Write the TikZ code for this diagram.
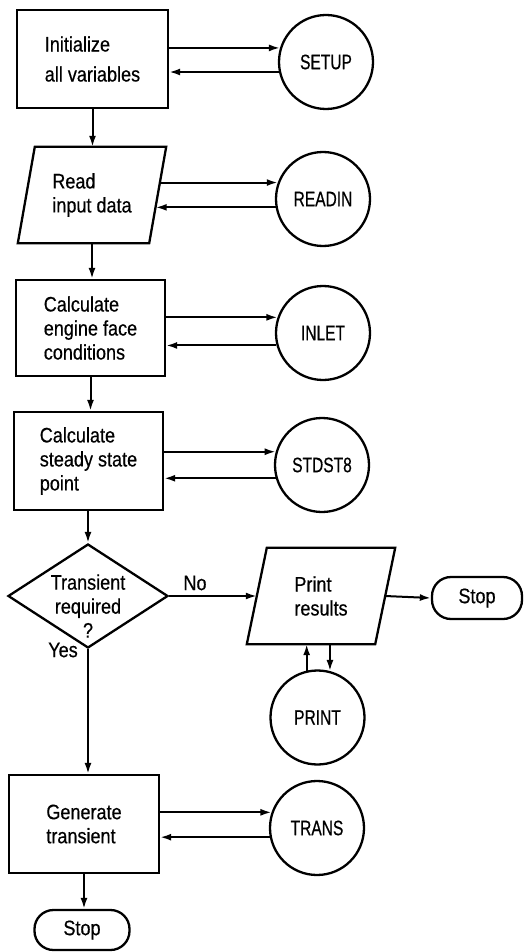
\documentclass[tikz,border=0pt]{standalone}
\usepackage{fontspec}
\setmainfont{Liberation Sans}[FakeStretch=0.86,FakeBold=0.5]
\newfontfamily\capsfont{Liberation Sans}[FakeStretch=0.74,FakeBold=0.5]
\usetikzlibrary{arrows.meta,shapes.geometric,calc}
\begin{document}
\begin{tikzpicture}[x=1pt,y=-1pt,
  lw/.style={line width=2.3pt},
  txt/.style={font=\fontsize{21}{24}\selectfont, inner sep=0pt},
  proc/.style={draw, rectangle, lw, align=left, txt},
  iobox/.style={rectangle, align=left, txt},
  circ/.style={draw, circle, lw, minimum size=94pt, inner sep=0pt, font=\capsfont\fontsize{21}{24}\selectfont},
  term/.style={draw, rectangle, rounded corners=19pt, lw, txt},
  arr/.style={-{Latex[length=11pt,width=7pt]}, line width=2pt}]
\useasboundingbox (0,0) rectangle (532,952);

\node[proc, minimum width=151pt, minimum height=98pt] (init) at (92.5,59) {Initialize\\[6pt]all variables};
\node[circ] (setup) at (326,62) {SETUP};

\node[iobox, minimum width=131pt, minimum height=96pt] (read) at (92,195) {Read\\input data};
\draw[lw] ($(read.north west)+(8.5,0)$) -- ($(read.north east)+(8.5,0)$) -- ($(read.south east)+(-8.5,0)$) -- ($(read.south west)+(-8.5,0)$) -- cycle;
\node[circ] (readin) at (323,199) {READIN};

\node[proc, minimum width=149pt, minimum height=96pt] (calc1) at (90.5,328) {Calculate\\engine face\\conditions};
\node[circ] (inlet) at (323,333) {INLET};

\node[proc, minimum width=149pt, minimum height=98pt] (calc2) at (88.5,461) {Calculate\\steady state\\point};
\node[circ] (stdst) at (322,465) {STDST8};

\node[draw, diamond, lw, minimum width=160pt, minimum height=104pt, inner sep=0pt] (dec) at (88,596) {};
\node[txt, align=center] (dectxt) at (88,606) {Transient\\required\\?};
\node[txt] (no) at (195,583) {No};
\node[txt] (yes) at (63,650) {Yes};

\node[iobox, minimum width=128pt, minimum height=96pt] (print) at (321,596) {Print\\results};
\draw[lw] ($(print.north west)+(10,0)$) -- ($(print.north east)+(10,0)$) -- ($(print.south east)+(-10,0)$) -- ($(print.south west)+(-10,0)$) -- cycle;
\node[term, minimum width=90pt, minimum height=42pt] (stop2) at (477,598) {Stop};
\node[circ] (printc) at (317.5,717.5) {PRINT};

\node[proc, minimum width=150pt, minimum height=98pt] (gen) at (84,824) {Generate\\transient};
\node[circ] (trans) at (317,828) {TRANS};
\node[term, minimum width=95pt, minimum height=40pt] (stop1) at (82,930) {Stop};

% main flow
\draw[arr] (init.south) -- (init.south |- read.north);
\draw[arr] (read.south) -- (read.south |- calc1.north);
\draw[arr] (calc1.south) -- (calc1.south |- calc2.north);
\draw[arr] (dec.north |- calc2.south) -- (dec.north);
\draw[arr] (dec.east) -- (print.west);
\draw[arr] (print.east) -- (stop2.west);
\draw[arr] (dec.south) -- (dec.south |- gen.north);
\draw[arr] (gen.south) -- (gen.south |- stop1.north);

% subroutine calls
\draw[arr] (init.east |- setup.163) -- (setup.163);
\draw[arr] (setup.192) -- (init.east |- setup.192);
\draw[arr] ($(read.east |- readin.160)+(2,0)$) -- (readin.160);
\draw[arr] (readin.190) -- ($(read.east |- readin.190)+(-2,0)$);
\draw[arr] (calc1.east |- inlet.161) -- (inlet.161);
\draw[arr] (inlet.195) -- (calc1.east |- inlet.195);
\draw[arr] (calc2.east |- stdst.164) -- (stdst.164);
\draw[arr] (stdst.196) -- (calc2.east |- stdst.196);
\draw[arr] (printc.103) -- (printc.103 |- print.south);
\draw[arr] (printc.75 |- print.south) -- (printc.75);
\draw[arr] (gen.east |- trans.161) -- (trans.161);
\draw[arr] (trans.191) -- (gen.east |- trans.191);
\end{tikzpicture}
\end{document}
